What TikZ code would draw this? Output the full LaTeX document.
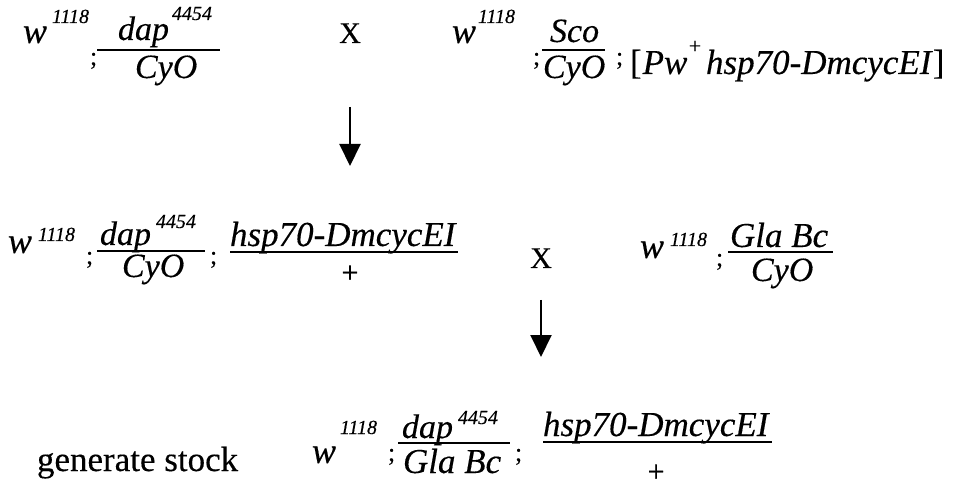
\documentclass[tikz,border=0pt]{standalone}
\usepackage{fontspec}
\setmainfont{Liberation Serif}[FakeBold=0.3]
\usetikzlibrary{arrows.meta}
\begin{document}
\begin{tikzpicture}[x=1pt,y=-1pt,
  every node/.style={inner sep=0pt,outer sep=0pt,anchor=base west},
  wst/.style={font=\fontsize{36}{36}\selectfont\itshape},
  it/.style={font=\fontsize{34}{34}\selectfont\itshape},
  big/.style={font=\fontsize{35}{35}\selectfont\itshape},
  sup/.style={font=\fontsize{20}{20}\selectfont\itshape},
  semi/.style={font=\fontsize{26}{26}\selectfont},
  rm/.style={font=\fontsize{30}{30}\selectfont,anchor=base},
  gen/.style={font=\fontsize{35}{35}\selectfont},
  plus/.style={font=\fontsize{30}{30}\selectfont,anchor=center},
  splus/.style={font=\fontsize{22}{22}\selectfont,anchor=center},
  bar/.style={line width=1.6pt},
  arr/.style={line width=2pt,-{Triangle[width=21pt,length=22pt]}}]
\useasboundingbox (0,0) rectangle (961,494);
% ---------- row 1, left parent
\node[wst] (r1w)   at (23,43) {w};
\node[sup] (r1ws)  at (52,23) {1118};
\node[semi](r1c)   at (90,65) {;};
\node[it]  (r1n)   at (118,40) {dap};
\node[sup] (r1ns)  at (172,20) {4454};
\coordinate (r1bl) at (97,50);
\coordinate (r1br) at (220,50);
\draw[bar] (r1bl) -- (r1br);
\node[it]  (r1d)   at (135,78) {CyO};
% cross
\node[rm]  (x1)    at (350,43) {X};
% ---------- row 1, right parent
\node[wst] (r1w2)  at (452,43) {w};
\node[sup] (r1ws2) at (478,23) {1118};
\node[semi](r1c2)  at (533,65) {;};
\node[it]  (r1n2)  at (550,42) {Sco};
\coordinate (r1bl2) at (542,50);
\coordinate (r1br2) at (605,50);
\draw[bar] (r1bl2) -- (r1br2);
\node[it]  (r1d2)  at (543,78) {CyO};
\node[semi](r1c3)  at (616,65) {;};
\node[big] (r1t)   at (630,74) {\textup{[}\kern1pt Pw};
\node[splus] (r1ts) at (695,47) {+};
\node[big] (r1u)   at (706,74) {hsp70-DmcycEI\textup{]}};
% arrow 1
\coordinate (a1s) at (350,107);
\coordinate (a1e) at (350,166);
\draw[arr] (a1s) -- (a1e);
% ---------- row 2, left
\node[wst] (r2w)   at (8,253) {w};
\node[sup] (r2ws)  at (38,241) {1118};
\node[semi](r2c)   at (86,264) {;};
\node[it]  (r2n)   at (100,245) {dap};
\node[sup] (r2ns)  at (156,228) {4454};
\coordinate (r2bl) at (97,251);
\coordinate (r2br) at (205,251);
\draw[bar] (r2bl) -- (r2br);
\node[it]  (r2d)   at (122,277) {CyO};
\node[semi](r2c2)  at (210,264) {;};
\node[big] (r2t)   at (230,246) {hsp70-DmcycEI};
\coordinate (r2bl2) at (230,252);
\coordinate (r2br2) at (458,252);
\draw[bar] (r2bl2) -- (r2br2);
\node[plus] (r2p)  at (350,274) {+};
% cross
\node[rm]  (x2)    at (541,268) {X};
% ---------- row 2, right
\node[wst] (r2w3)  at (640,258) {w};
\node[sup] (r2ws3) at (670,246) {1118};
\node[semi](r2c3)  at (716,266) {;};
\node[big] (r2n3)  at (730,247) {Gla Bc};
\coordinate (r2bl3) at (728,252);
\coordinate (r2br3) at (833,252);
\draw[bar] (r2bl3) -- (r2br3);
\node[it]  (r2d3)  at (751,281) {CyO};
% arrow 2
\coordinate (a2s) at (541,300);
\coordinate (a2e) at (541,357);
\draw[arr] (a2s) -- (a2e);
% ---------- row 3
\node[gen] (g)     at (37,471) {generate stock};
\node[wst] (r3w)   at (312,463) {w};
\node[sup] (r3ws)  at (340,434) {1118};
\node[semi](r3c)   at (388,461) {;};
\node[it]  (r3n)   at (402,438) {dap};
\node[sup] (r3ns)  at (458,424) {4454};
\coordinate (r3bl) at (398,443);
\coordinate (r3br) at (510,443);
\draw[bar] (r3bl) -- (r3br);
\node[big] (r3d)   at (403,473) {Gla Bc};
\node[semi](r3c2)  at (515,461) {;};
\node[big] (r3t)   at (543,436) {hsp70-DmcycEI};
\coordinate (r3bl2) at (543,442);
\coordinate (r3br2) at (772,442);
\draw[bar] (r3bl2) -- (r3br2);
\node[plus] (r3p)  at (656,473) {+};
\end{tikzpicture}
\end{document}
